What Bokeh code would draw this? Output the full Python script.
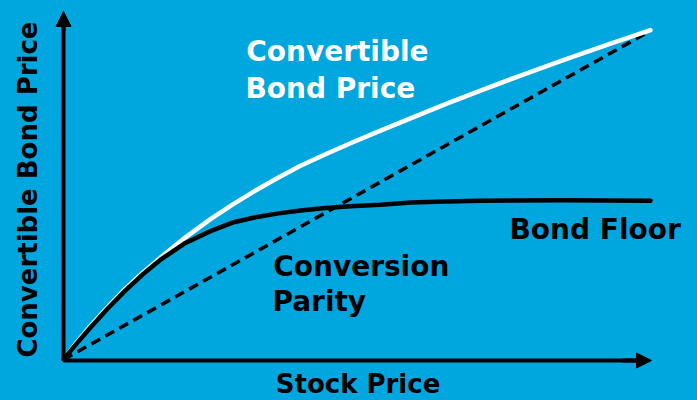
from bokeh.plotting import figure
from bokeh.models import (Range1d, FixedTicker, Arrow, NormalHead, Label,
                          LinearAxis, GlobalInlineStyleSheet)
from bokeh.embed import file_html
from bokeh.resources import INLINE
import math

# ---- data ----
stock_price = [0, 2.04, 4.59, 7.48, 10.54, 13.44, 16.50, 20.75, 25.0, 28.74, 32.65,
               36.56, 40.31, 44.56, 48.81, 53.91, 59.01, 64.97, 70.92, 77.72,
               84.52, 92.18, 99.83]
convertible_price = [0.30, 5.03, 10.48, 16.15, 21.76, 26.55, 31.18, 37.32, 42.85,
                     47.25, 51.50, 55.47, 59.01, 62.49, 65.82, 69.64, 73.37, 77.67,
                     81.80, 86.35, 90.71, 95.48, 100.12]
bond_floor = [0.30, 4.73, 10.00, 15.67, 21.24, 26.03, 30.55, 35.62, 39.20, 41.80,
              43.39, 44.58, 45.45, 46.21, 46.74, 47.20, 47.88, 48.18, 48.39, 48.52,
              48.55, 48.52, 48.42]
parity_x = [0, 99.0]
parity_y = [0.3, 99.1]

x_title = "Stock Price"
y_title = "Convertible Bond Price"
label_convertible = ["Convertible", "Bond Price"]
label_parity = ["Conversion", "Parity"]
label_floor = "Bond Floor"

BG = "#00A6DE"
FONT = "DejaVu Sans"

p = figure(width=697, height=400,
           x_range=Range1d(-10.714, 107.823), y_range=Range1d(-12.121, 109.091),
           output_backend="svg", toolbar_location=None,
           x_axis_location=None, y_axis_location=None,
           min_border=0, min_border_left=0, min_border_right=0,
           min_border_top=0, min_border_bottom=0,
           background_fill_color=BG, border_fill_color=BG,
           outline_line_color=None)
p.grid.visible = False

xa = LinearAxis(fixed_location=0, bounds=(0, 98))
ya = LinearAxis(fixed_location=0, bounds=(0, 104))
for ax in (xa, ya):
    ax.ticker = FixedTicker(ticks=[])
    ax.major_tick_line_color = None
    ax.minor_tick_line_color = None
    ax.major_tick_out = 0
    ax.major_tick_in = 0
    ax.minor_tick_out = 0
    ax.minor_tick_in = 0
    ax.major_label_standoff = 0
    ax.major_label_text_color = None
    ax.axis_line_color = "black"
    ax.axis_line_width = 4
p.add_layout(xa, "below")
p.add_layout(ya, "left")

# arrow heads on the axes
p.add_layout(Arrow(end=NormalHead(size=15, fill_color="black", line_color="black"),
                   x_start=0, y_start=100, x_end=0, y_end=105.76,
                   line_color="black", line_width=4))
p.add_layout(Arrow(end=NormalHead(size=15, fill_color="black", line_color="black"),
                   x_start=95, y_start=0, x_end=100, y_end=0,
                   line_color="black", line_width=4))

# curves
p.line(parity_x, parity_y, line_color="black", line_width=3.5, line_dash="10 6")
p.line(stock_price, convertible_price, line_color="white", line_width=4.5,
       line_join="round", line_cap="round")
p.line(stock_price, bond_floor, line_color="black", line_width=4.5,
       line_join="round", line_cap="round")

def lab(x, y, text, color, size, angle=0.0, align="left"):
    p.add_layout(Label(x=x, y=y, text=text, text_color=color,
                       text_font=FONT, text_font_style="bold",
                       text_font_size=size, text_align=align,
                       text_baseline="alphabetic", angle=angle))

lab(31.07, 93.5, label_convertible[0], "white", "28px")
lab(30.95, 82.3, label_convertible[1], "white", "28px")
lab(35.66, 28.36, label_parity[0], "black", "28px")
lab(35.53, 17.75, label_parity[1], "black", "28px")
lab(75.85, 39.57, label_floor, "black", "28px")

# axis titles
lab(50.09, -7.0, x_title, "black", "26px", align="center")
lab(-6.0, 51.8, y_title, "black", "26px", angle=math.pi / 2, align="center")

p.stylesheets = [GlobalInlineStyleSheet(
    css="html, body { margin: 0; padding: 0; overflow: hidden; background: #00A6DE; }")]

open("out.html", "w").write(file_html(p, INLINE))
